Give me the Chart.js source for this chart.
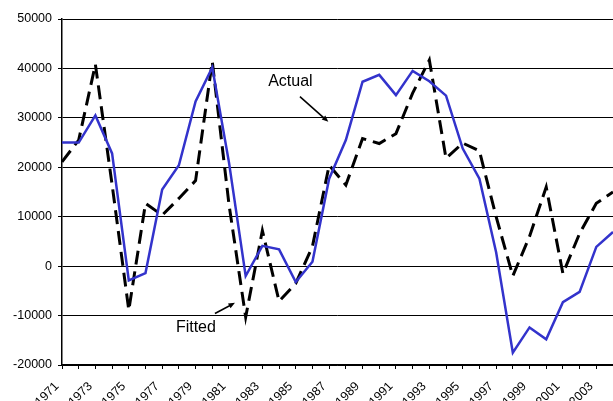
<!DOCTYPE html>
<html lang="en">
<head>
    <meta charset="UTF-8">
    <title>Actual vs Fitted</title>
    <script src="https://cdn.jsdelivr.net/npm/chart.js"></script>
    <style>
        body {
            margin: 0;
            padding: 0;
            background-color: #ffffff;
        }
        .chart-box {
            width: 613px;
            height: 401px;
            position: relative;
        }
    </style>
</head>
<body>
    <div class="chart-box">
        <canvas id="fitChart"></canvas>
    </div>

    <script>
        // Years on the category axis (labels shown on odd years only)
        const years = ['1971', '1972', '1973', '1974', '1975', '1976', '1977', '1978', '1979', '1980',
                       '1981', '1982', '1983', '1984', '1985', '1986', '1987', '1988', '1989', '1990',
                       '1991', '1992', '1993', '1994', '1995', '1996', '1997', '1998', '1999', '2000',
                       '2001', '2002', '2003', '2004'];

        const actual = [25000, 25000, 30500, 22800, -2900, -1400, 15500, 20400, 33300, 40200,
                        21000, -2000, 4100, 3400, -3200, 900, 17700, 25500, 37300, 38700,
                        34600, 39500, 37400, 34500, 23800, 17700, 2800, -17500, -12400, -14800,
                        -7300, -5200, 3900, 6900];

        const fitted = [21100, 25500, 40800, 16500, -8900, 12700, 10300, 13700, 17300, 41400,
                        12500, -10300, 7200, -7100, -3500, 4000, 20400, 16400, 25800, 24800,
                        26800, 35000, 41700, 21800, 24900, 23300, 10000, -2000, 6000, 16000,
                        -1500, 6600, 12700, 15000];

        const yTicks = [-20000, -10000, 0, 10000, 20000, 30000, 40000, 50000];

        // Callout labels with arrows, given in data terms (category index, value)
        const callouts = [
            { text: 'Actual', at: [13.68, 37300], from: [14.25, 34300], to: [15.95, 29200] },
            { text: 'Fitted', at: [8.02, -12500], from: [9.16, -9580], to: [10.36, -7430] }
        ];

        const calloutPlugin = {
            id: 'callouts',
            afterDatasetsDraw(chart) {
                const ctx = chart.ctx;
                const xs = chart.scales.x;
                const ys = chart.scales.y;
                ctx.save();
                ctx.fillStyle = '#000';
                ctx.strokeStyle = '#000';
                ctx.font = '16px "Liberation Sans", Arial, sans-serif';
                ctx.textAlign = 'center';
                ctx.textBaseline = 'middle';
                callouts.forEach(c => {
                    ctx.fillText(c.text, xs.getPixelForValue(c.at[0]), ys.getPixelForValue(c.at[1]));

                    const x1 = xs.getPixelForValue(c.from[0]), y1 = ys.getPixelForValue(c.from[1]);
                    const x2 = xs.getPixelForValue(c.to[0]), y2 = ys.getPixelForValue(c.to[1]);
                    const ang = Math.atan2(y2 - y1, x2 - x1);
                    const head = 7;
                    ctx.lineWidth = 1.5;
                    ctx.beginPath();
                    ctx.moveTo(x1, y1);
                    ctx.lineTo(x2 - Math.cos(ang) * head * 0.8, y2 - Math.sin(ang) * head * 0.8);
                    ctx.stroke();
                    ctx.beginPath();
                    ctx.moveTo(x2, y2);
                    ctx.lineTo(x2 - head * Math.cos(ang - 0.4), y2 - head * Math.sin(ang - 0.4));
                    ctx.lineTo(x2 - head * Math.cos(ang + 0.4), y2 - head * Math.sin(ang + 0.4));
                    ctx.closePath();
                    ctx.fill();
                });
                ctx.restore();
            }
        };

        const tickFont = { family: '"Liberation Sans", Arial, sans-serif', size: 12.5 };

        new Chart(document.getElementById('fitChart'), {
            type: 'line',
            data: {
                labels: years,
                datasets: [{
                    label: 'Actual',
                    data: actual,
                    borderColor: '#3333cc',
                    borderWidth: 2.5,
                    pointRadius: 0,
                    tension: 0,
                    fill: false
                }, {
                    label: 'Fitted',
                    data: fitted,
                    borderColor: '#000000',
                    borderWidth: 3,
                    borderDash: [14, 7],
                    pointRadius: 0,
                    tension: 0,
                    fill: false
                }]
            },
            options: {
                responsive: true,
                maintainAspectRatio: false,
                animation: false,
                layout: { padding: { top: 19, right: 0, left: 0, bottom: 0 } },
                plugins: {
                    legend: { display: false },
                    tooltip: { enabled: false }
                },
                scales: {
                    x: {
                        offset: false,
                        grid: {
                            drawOnChartArea: false,
                            drawTicks: true,
                            tickLength: 4,
                            color: '#000'
                        },
                        border: { color: '#000', width: 1.5 },
                        ticks: {
                            autoSkip: false,
                            minRotation: 45,
                            maxRotation: 45,
                            padding: 10,
                            labelOffset: -5,
                            color: '#000',
                            font: tickFont,
                            callback: function (value, index) {
                                return index % 2 === 0 ? years[index] : '';
                            }
                        },
                        afterFit: function (scale) {
                            scale.paddingRight = 0;
                            scale.height = 36;
                        }
                    },
                    y: {
                        min: yTicks[0],
                        max: yTicks[yTicks.length - 1],
                        afterBuildTicks: function (scale) {
                            scale.ticks = yTicks.map(v => ({ value: v }));
                        },
                        grid: {
                            color: '#000',
                            lineWidth: 1,
                            drawTicks: true,
                            tickLength: 4
                        },
                        border: { color: '#000', width: 1.5 },
                        ticks: {
                            padding: 6,
                            color: '#000',
                            font: tickFont,
                            callback: function (value) {
                                return String(value);
                            }
                        },
                        afterFit: function (scale) {
                            scale.width = 62;
                        }
                    }
                }
            },
            plugins: [calloutPlugin]
        });
    </script>
</body>
</html>
